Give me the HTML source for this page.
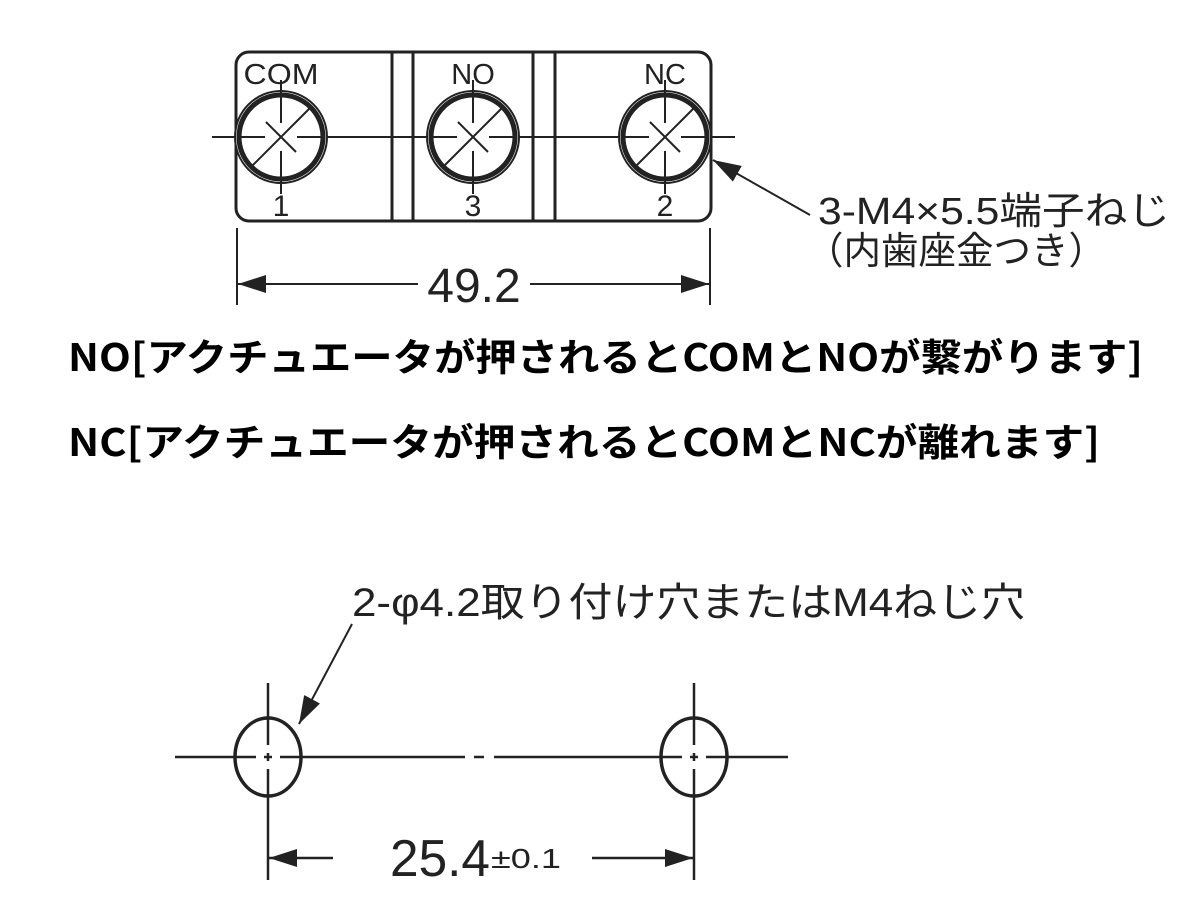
<!DOCTYPE html>
<html><head><meta charset="utf-8"><style>html,body{margin:0;padding:0;background:#fff}svg{display:block}</style></head>
<body>
<svg width="1200" height="900" viewBox="0 0 1200 900" xmlns="http://www.w3.org/2000/svg">
<defs>
<marker id="ahb" viewBox="0 0 10 10" refX="10" refY="5" markerWidth="28" markerHeight="18" markerUnits="userSpaceOnUse" orient="auto-start-reverse" preserveAspectRatio="none"><path d="M0,0 L10,5 L0,10z" fill="#222"/></marker>
</defs>
<g stroke="#222" fill="none" stroke-linecap="butt">
<rect x="236" y="52" width="475" height="169" rx="13" stroke-width="3"/>
<line x1="392" y1="52" x2="392" y2="221" stroke-width="3"/>
<line x1="413" y1="52" x2="413" y2="221" stroke-width="3"/>
<line x1="533" y1="52" x2="533" y2="221" stroke-width="3"/>
<line x1="555" y1="52" x2="555" y2="221" stroke-width="3"/>
<line x1="212" y1="137" x2="735" y2="137" stroke-width="2"/>
</g>
<g stroke="#222" fill="none">
<g transform="translate(281,137)">
<circle r="46" stroke-width="2" fill="#fff"/><circle r="42" stroke-width="5"/>
<line x1="0" y1="-57" x2="0" y2="-14" stroke-width="2"/><line x1="0" y1="14" x2="0" y2="57" stroke-width="2"/>
<line x1="-44" y1="0" x2="-16" y2="0" stroke-width="2"/><line x1="16" y1="0" x2="44" y2="0" stroke-width="2"/>
<line x1="-28" y1="28" x2="30" y2="-30" stroke-width="2"/><line x1="-15" y1="-15" x2="15" y2="15" stroke-width="2"/>
</g>
<g transform="translate(473,137)">
<circle r="46" stroke-width="2" fill="#fff"/><circle r="42" stroke-width="5"/>
<line x1="0" y1="-57" x2="0" y2="-14" stroke-width="2"/><line x1="0" y1="14" x2="0" y2="57" stroke-width="2"/>
<line x1="-44" y1="0" x2="-16" y2="0" stroke-width="2"/><line x1="16" y1="0" x2="44" y2="0" stroke-width="2"/>
<line x1="-28" y1="28" x2="30" y2="-30" stroke-width="2"/><line x1="-15" y1="-15" x2="15" y2="15" stroke-width="2"/>
</g>
<g transform="translate(665,137)">
<circle r="46" stroke-width="2" fill="#fff"/><circle r="42" stroke-width="5"/>
<line x1="0" y1="-57" x2="0" y2="-14" stroke-width="2"/><line x1="0" y1="14" x2="0" y2="57" stroke-width="2"/>
<line x1="-44" y1="0" x2="-16" y2="0" stroke-width="2"/><line x1="16" y1="0" x2="44" y2="0" stroke-width="2"/>
<line x1="-28" y1="28" x2="30" y2="-30" stroke-width="2"/><line x1="-15" y1="-15" x2="15" y2="15" stroke-width="2"/>
</g>
<line x1="237" y1="228" x2="237" y2="305" stroke-width="2"/>
<line x1="710" y1="228" x2="710" y2="305" stroke-width="2"/>
<line x1="238" y1="284" x2="418" y2="284" stroke-width="2" marker-start="url(#ahb)"/>
<line x1="530" y1="284" x2="709" y2="284" stroke-width="2" marker-end="url(#ahb)"/>
<line x1="810" y1="215" x2="713" y2="160" stroke-width="2" marker-end="url(#ahb)"/>
</g>
<g font-family="Liberation Sans, sans-serif" fill="#222" text-anchor="middle">
<text x="281" y="84" font-size="29" textLength="75" lengthAdjust="spacingAndGlyphs">COM</text>
<text x="473" y="84" font-size="29">NO</text>
<text x="665" y="84" font-size="29">NC</text>
<text x="281" y="216" font-size="30">1</text>
<text x="473" y="216" font-size="30">3</text>
<text x="665" y="216" font-size="30">2</text>
<text x="474" y="302" font-size="48">49.2</text>
</g>
<g font-family="Liberation Sans, 'Noto Sans CJK JP', sans-serif" fill="#222" font-size="38">
<text x="818" y="224" textLength="352" lengthAdjust="spacingAndGlyphs">3-M4×5.5端子ねじ</text>
<text x="806" y="264" textLength="300" lengthAdjust="spacingAndGlyphs">（内歯座金つき）</text>
<text x="352" y="616" font-size="40" textLength="673" lengthAdjust="spacingAndGlyphs">2-φ4.2取り付け穴またはM4ねじ穴</text>
</g>
<g font-family="'Noto Sans CJK JP', sans-serif" font-weight="bold" fill="#000" font-size="38">
<text x="68" y="371" textLength="1075" lengthAdjust="spacingAndGlyphs">NO[アクチュエータが押されるとCOMとNOが繋がります]</text>
<text x="68" y="456" textLength="1032" lengthAdjust="spacingAndGlyphs">NC[アクチュエータが押されるとCOMとNCが離れます]</text>
</g>
<g stroke="#222" fill="none" stroke-width="2.5">
<line x1="352" y1="624" x2="299" y2="724" stroke-width="2" marker-end="url(#ahb)"/>
<!-- centerline -->
<line x1="175" y1="757" x2="236" y2="757"/>
<line x1="236" y1="757" x2="256" y2="757"/>
<line x1="264" y1="757" x2="272" y2="757"/>
<line x1="280" y1="757" x2="465" y2="757"/>
<line x1="474" y1="757" x2="484" y2="757"/>
<line x1="494" y1="757" x2="682" y2="757"/>
<line x1="690" y1="757" x2="698" y2="757"/>
<line x1="706" y1="757" x2="788" y2="757"/>
<!-- verticals -->
<line x1="268" y1="683" x2="268" y2="745"/>
<line x1="268" y1="753" x2="268" y2="761"/>
<line x1="268" y1="769" x2="268" y2="880"/>
<line x1="694" y1="683" x2="694" y2="745"/>
<line x1="694" y1="753" x2="694" y2="761"/>
<line x1="694" y1="769" x2="694" y2="880"/>
<ellipse cx="268" cy="757" rx="33" ry="39" stroke-width="3.5"/>
<ellipse cx="694" cy="757" rx="33" ry="39" stroke-width="3.5"/>
<line x1="269" y1="858" x2="333" y2="858" marker-start="url(#ahb)"/>
<line x1="592" y1="858" x2="693" y2="858" marker-end="url(#ahb)"/>
</g>
<g font-family="Liberation Sans, sans-serif" fill="#222">
<text x="390" y="876" font-size="52" textLength="100" lengthAdjust="spacingAndGlyphs">25.4</text>
<text x="491" y="868" font-size="28" textLength="70" lengthAdjust="spacingAndGlyphs">±0.1</text>
</g>
</svg>
</body></html>
